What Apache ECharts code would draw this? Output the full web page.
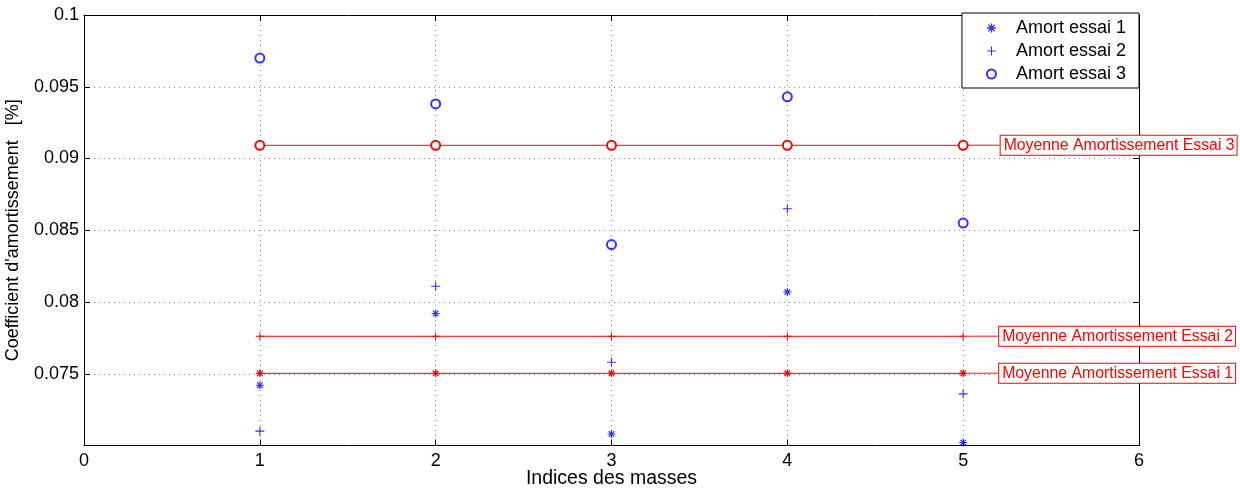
<!DOCTYPE html>
<html><head><meta charset="utf-8">
<script src="https://cdn.jsdelivr.net/npm/echarts@6/dist/echarts.min.js"></script>
<style>html,body{margin:0;padding:0;background:#fff}#c{width:1240px;height:488px}</style>
</head><body><div id="c"></div>
<script>
const masses = [1, 2, 3, 4, 5];
const essai1 = [0.0742, 0.0792, 0.0708, 0.0807, 0.0702];
const essai2 = [0.0710, 0.0811, 0.0758, 0.0865, 0.0736];
const essai3 = [0.0970, 0.0938, 0.0840, 0.0943, 0.0855];
const moyenne1 = 0.07503;
const moyenne2 = 0.07761;
const moyenne3 = 0.09092;
const seriesNames = ['Amort essai 1', 'Amort essai 2', 'Amort essai 3'];
const meanNames = ['Moyenne Amortissement Essai 1', 'Moyenne Amortissement Essai 2', 'Moyenne Amortissement Essai 3'];

const PLUS = 'path://M-1.2,-10L1.2,-10L1.2,10L-1.2,10Z M-10,-1.2L10,-1.2L10,1.2L-10,1.2Z';
const STAR = 'path://M-1.5,-10L1.5,-10L1.5,10L-1.5,10Z M-10,-1.5L10,-1.5L10,1.5L-10,1.5Z ' +
  'M-5.94,-8.06L8.06,5.94L5.94,8.06L-8.06,-5.94Z M8.06,-5.94L-5.94,8.06L-8.06,5.94L5.94,-8.06Z';

const FONT = 'Liberation Sans';
const BLUE = '#0000ff';
const RED = '#ff0000';

function pts(arr) { return masses.map((m, i) => [m, arr[i]]); }
function meanPts(v, name) {
  return masses.map((m, i) => {
    const p = { value: [m, v] };
    if (i === masses.length - 1) {
      p.label = {
        show: true, formatter: name, position: 'right', distance: 5,
        color: RED, fontFamily: FONT, fontSize: 15.8,
        borderColor: RED, borderWidth: 1, backgroundColor: '#fff',
        padding: [2, 2, 1, 3]
      };
    }
    return p;
  });
}
function meanSeries(v, name, symbol, size) {
  return {
    name: name, type: 'line', data: meanPts(v, name), symbol: symbol, symbolSize: size,
    color: RED, clip: false,
    lineStyle: { color: RED, width: 1 },
    itemStyle: symbol === 'emptyCircle' ? { color: RED, borderColor: RED, borderWidth: 1 } : { color: RED, borderWidth: 0 },
    labelLayout: { dx: 27 },
    labelLine: { show: true, lineStyle: { color: '#ff6060', width: 1.5 } },
    z: 3
  };
}

const chart = echarts.init(document.getElementById('c'));
const gridLine = { show: true, lineStyle: { color: '#8a8a8a', type: [1, 4], width: 1 } };
chart.setOption({
  animation: false,
  backgroundColor: '#fff',
  color: [RED, RED, RED, BLUE, BLUE, BLUE],
  grid: { left: 84, right: 101, top: 15, bottom: 42.5, containLabel: false, outerBoundsMode: 'none' },
  legend: {
    data: seriesNames, orient: 'vertical', right: 101, top: 13,
    backgroundColor: '#fff', borderColor: '#000', borderWidth: 1, borderRadius: 0,
    padding: [6, 13, 5, 24], itemWidth: 9, itemHeight: 9, itemGap: 5,
    textStyle: { fontFamily: FONT, fontSize: 18, color: '#000', padding: [0, 0, 0, 15] }
  },
  xAxis: [{
    type: 'value', min: 0, max: 6, interval: 1,
    name: 'Indices des masses', nameLocation: 'middle', nameGap: 23, nameMoveOverlap: false,
    nameTextStyle: { fontFamily: FONT, fontSize: 19.5, color: '#000' },
    axisLine: { show: true, onZero: false, lineStyle: { color: '#000', width: 1 } },
    axisTick: { show: true, inside: true, length: 6, lineStyle: { color: '#000' } },
    axisLabel: { fontFamily: FONT, fontSize: 18, color: '#000', margin: 7 },
    splitLine: gridLine
  }, {
    type: 'value', min: 0, max: 6, interval: 1, position: 'top',
    axisLine: { show: true, onZero: false, lineStyle: { color: '#000', width: 1 } },
    axisTick: { show: true, inside: true, length: 6, lineStyle: { color: '#000' } },
    axisLabel: { show: false }, splitLine: { show: false }
  }],
  yAxis: [{
    type: 'value', min: 0.07, max: 0.1, interval: 0.005,
    name: "Coefficient d'amortissement   [%]", nameLocation: 'middle', nameGap: 62, nameRotate: 90,
    nameMoveOverlap: false,
    nameTextStyle: { fontFamily: FONT, fontSize: 18, color: '#000' },
    axisLine: { show: true, onZero: false, lineStyle: { color: '#000', width: 1 } },
    axisTick: { show: true, inside: true, length: 6, lineStyle: { color: '#000' } },
    axisLabel: {
      fontFamily: FONT, fontSize: 18, color: '#000', margin: 5,
      formatter: v => (v < 0.0725 ? '' : String(Math.round(v * 1000) / 1000))
    },
    splitLine: gridLine
  }, {
    type: 'value', min: 0.07, max: 0.1, interval: 0.005, position: 'right',
    axisLine: { show: true, onZero: false, lineStyle: { color: '#000', width: 1 } },
    axisTick: { show: true, inside: true, length: 6, lineStyle: { color: '#000' } },
    axisLabel: { show: false }, splitLine: { show: false }
  }],
  series: [
    meanSeries(moyenne1, meanNames[0], STAR, 8),
    meanSeries(moyenne2, meanNames[1], PLUS, 8),
    meanSeries(moyenne3, meanNames[2], 'emptyCircle', 9),
    { name: seriesNames[0], type: 'scatter', data: pts(essai1), symbol: STAR, symbolSize: 8,
      color: BLUE, itemStyle: { color: BLUE }, z: 4 },
    { name: seriesNames[1], type: 'scatter', data: pts(essai2), symbol: PLUS, symbolSize: 9,
      color: BLUE, itemStyle: { color: BLUE }, z: 4 },
    { name: seriesNames[2], type: 'scatter', data: pts(essai3), symbol: 'emptyCircle', symbolSize: 9,
      color: BLUE, itemStyle: { color: BLUE, borderColor: BLUE, borderWidth: 1 }, z: 4 }
  ]
});
</script></body></html>
